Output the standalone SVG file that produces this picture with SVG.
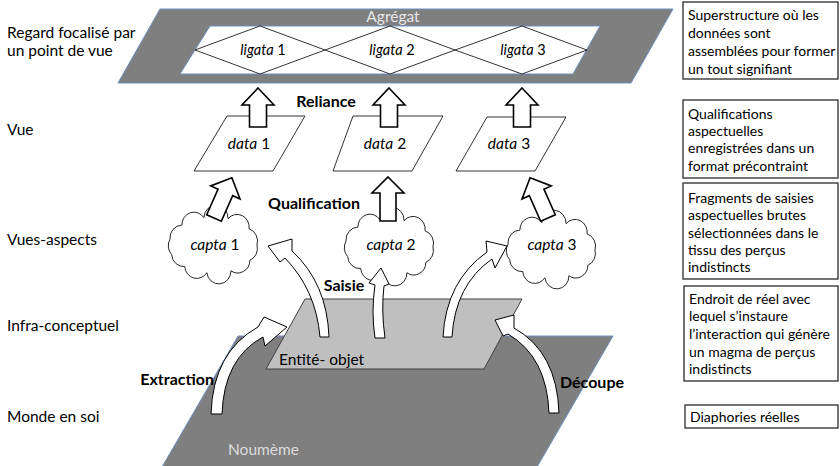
<svg xmlns="http://www.w3.org/2000/svg" width="840" height="466" viewBox="0 0 840 466">
<style>
text{font-family:Lato,"Liberation Sans",sans-serif;fill:#000}
.lbl{font-size:15.5px}
.lg{font-size:14.5px}
.bx{font-size:14px}
.b{font-size:16px;font-weight:bold}
.it{font-style:italic}
.c{text-anchor:middle}
.pl{fill:#fff;stroke:#000;stroke-width:0.8}
.arr{fill:#fff;stroke:#000;stroke-width:1}
.barr{fill:#fff;stroke:#000;stroke-width:1.6}
.box{fill:#fff;stroke:#3a3a3a;stroke-width:1.4}
.dk{fill:#7f7f7f;stroke:#6f8fbf;stroke-width:1}
.cl{fill:#fff;stroke:#000;stroke-width:0.75}
</style>
<defs>
<path id="cloud" class="cl" d="M40,0 A11,11 0 0 1 33.5,13.1 A11,11 0 0 1 16.3,22 A11,11 0 0 1 -5.6,23.7 A11,11 0 0 1 -25.7,18.4 A11,11 0 0 1 -37.6,8.2 A11,11 0 0 1 -39.1,-5 A11,11 0 0 1 -28.3,-17 A11,11 0 0 1 -8.3,-23.4 A11,11 0 0 1 13.7,-22.5 A11,11 0 0 1 32.8,-13.8 A11,11 0 0 1 40,0 Z"/>
<polygon id="upR" class="barr" points="0,-39 16,-22 8.5,-22 8.5,0 -8.5,0 -8.5,-22 -16,-22"/>
<polygon id="upQ" class="barr" points="0,-44 16,-28 8,-28 8,0 -8,0 -8,-28 -16,-28"/>
</defs>

<!-- left level labels -->
<g id="levels">
<text class="lbl" x="7" y="38">Regard focalisé par</text>
<text class="lbl" x="7" y="56">un point de vue</text>
<text class="lbl" x="7" y="135">Vue</text>
<text class="lbl" x="7" y="245">Vues-aspects</text>
<text class="lbl" x="7" y="331">Infra-conceptuel</text>
<text class="lbl" x="7" y="422">Monde en soi</text>
</g>

<!-- Noumème plane -->
<g id="noumeme">
<polygon class="dk" points="238,336 613,336 537,467 162,467"/>
<text class="lbl" x="228" y="455" style="fill:#dcdcdc">Noumème</text>
</g>

<!-- Entité-objet plane -->
<g id="entite">
<polygon points="305,299 522,299 484,369 266,369" fill="#bfbfbf" stroke="#404040" stroke-width="1"/>
<text class="lbl" x="279" y="365">Entité- objet</text>
</g>

<!-- Agrégat -->
<g id="agregat">
<polygon class="dk" points="160,9 673,9 631,83 118,83"/>
<polygon points="210,26 600,26 573,74 180,74" fill="#fff" stroke="#6f8fbf" stroke-width="1"/>
<text class="lbl c" x="393" y="22" style="fill:#e6e6e6">Agrégat</text>
</g>
<g id="ligata1">
<polygon class="pl" points="195,50 260,26 325,50 260,74"/>
<text class="lg c" x="263" y="55"><tspan class="it">ligata</tspan> 1</text>
</g>
<g id="ligata2">
<polygon class="pl" points="325,50 390,26 455,50 390,74"/>
<text class="lg c" x="392" y="55"><tspan class="it">ligata</tspan> 2</text>
</g>
<g id="ligata3">
<polygon class="pl" points="455,50 522,26 587,50 522,74"/>
<text class="lg c" x="523" y="55"><tspan class="it">ligata</tspan> 3</text>
</g>

<!-- data -->
<g id="data1">
<polygon class="pl" points="227,116 305,116 273,171 194,171"/>
<text class="lbl c" x="249" y="149"><tspan class="it">data</tspan> 1</text>
</g>
<g id="data2">
<polygon class="pl" points="353,116 443,116 412,171 333,171"/>
<text class="lbl c" x="385" y="149"><tspan class="it">data</tspan> 2</text>
</g>
<g id="data3">
<polygon class="pl" points="487,117 566,117 535,171 456,171"/>
<text class="lbl c" x="509" y="149"><tspan class="it">data</tspan> 3</text>
</g>

<!-- clouds -->
<g id="capta1">
<use href="#cloud" transform="translate(213,245) scale(1.1,1.17)"/>
<text class="lbl c" x="215" y="250"><tspan class="it">capta</tspan> 1</text>
</g>
<g id="capta2">
<use href="#cloud" transform="translate(389,247) scale(1.1,1.17)"/>
<text class="lbl c" x="391" y="250"><tspan class="it">capta</tspan> 2</text>
</g>
<g id="capta3">
<use href="#cloud" transform="translate(551,250) scale(1.1,1.17)"/>
<text class="lbl c" x="552" y="250"><tspan class="it">capta</tspan> 3</text>
</g>

<!-- connectors -->
<g id="connectors">
<use href="#upR" transform="translate(258,127)"/>
<use href="#upR" transform="translate(389,127)"/>
<use href="#upR" transform="translate(522,127)"/>
<use href="#upQ" transform="translate(214,218) rotate(24)"/>
<use href="#upQ" transform="translate(388,221)"/>
<use href="#upQ" transform="translate(548,218) rotate(-24)"/>
<path class="arr" d="M329,337 Q327,283 292,251 L292,239 L268,246 L280,262 L285,258 Q316,290 320,337 Z"/>
<path class="arr" d="M385,338 Q381,310 384,286 L389,284 L381,268 L369,283 L375,285 Q371,312 375,338 Z"/>
<path class="arr" d="M443,337 Q446,281 487,252 L486,241 L507,246 L495,268 L492,259 Q455,285 452,337 Z"/>
<path class="arr" d="M211,414 Q213,352 258,327 L264,317 L287,327 L265,346 L263,337 Q224,358 222,414 Z"/>
<path class="arr" d="M559,413 Q557,352 514,328 L514,315 L495,320 L503,336 L508,334 Q547,357 549,413 Z"/>
<text class="b c" x="326" y="107">Reliance</text>
<text class="b c" x="314" y="209">Qualification</text>
<text class="b c" x="344" y="291">Saisie</text>
<text class="b" x="214" y="385" text-anchor="end">Extraction</text>
<text class="b" x="560" y="388">Découpe</text>
</g>

<!-- right description boxes -->
<g id="desc1">
<rect class="box" x="683" y="2" width="155" height="77"/>
<text class="bx" x="688" y="20">Superstructure où les</text>
<text class="bx" x="688" y="38">données  sont</text>
<text class="bx" x="688" y="56">assemblées pour former</text>
<text class="bx" x="688" y="74">un tout signifiant</text>
</g>
<g id="desc2">
<rect class="box" x="683" y="100" width="155" height="78"/>
<text class="bx" x="688" y="119">Qualifications</text>
<text class="bx" x="688" y="136">aspectuelles</text>
<text class="bx" x="688" y="153">enregistrées dans un</text>
<text class="bx" x="688" y="171">format précontraint</text>
</g>
<g id="desc3">
<rect class="box" x="683" y="183" width="155" height="96"/>
<text class="bx" x="688" y="203">Fragments de saisies</text>
<text class="bx" x="688" y="220">aspectuelles brutes</text>
<text class="bx" x="688" y="238">sélectionnées dans le</text>
<text class="bx" x="688" y="255">tissu des perçus</text>
<text class="bx" x="688" y="272">indistincts</text>
</g>
<g id="desc4">
<rect class="box" x="684" y="286" width="154" height="95"/>
<text class="bx" x="689" y="304">Endroit de réel avec</text>
<text class="bx" x="689" y="321">lequel s’instaure</text>
<text class="bx" x="689" y="339">l’interaction qui génère</text>
<text class="bx" x="689" y="357">un magma de perçus</text>
<text class="bx" x="689" y="374">indistincts</text>
</g>
<g id="desc5">
<rect class="box" x="685" y="405" width="153" height="23"/>
<text class="bx" x="690" y="422">Diaphories réelles</text>
</g>
</svg>
